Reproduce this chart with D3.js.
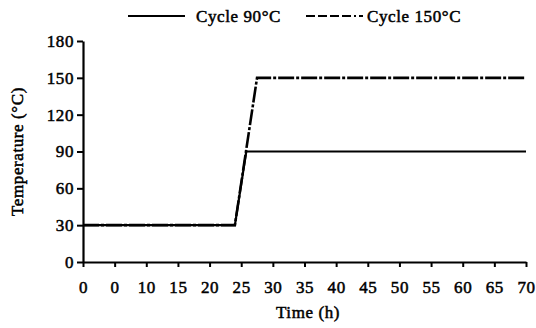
<!DOCTYPE html>
<html>
<head>
<meta charset="utf-8">
<script src="https://cdn.jsdelivr.net/npm/d3@7"></script>
<style>
  body { margin: 0; background: white; }
  svg text { font-family: "Liberation Serif", "Times New Roman", serif; fill: black; stroke: black; stroke-width: 0.5px; letter-spacing: 0.6px; }
</style>
</head>
<body>
<div id="chart"></div>
<script>
var xTicks = [0, 5, 10, 15, 20, 25, 30, 35, 40, 45, 50, 55, 60, 65, 70];
// the source figure prints "0" under the 5 tick
var xTickLabels = ["0", "0", "10", "15", "20", "25", "30", "35", "40", "45", "50", "55", "60", "65", "70"];
var yTicks = [0, 30, 60, 90, 120, 150, 180];

var cycle90Time = [0, 24, 25.8, 70];
var cycle90Temp = [30, 30, 90, 90];
var cycle150Time = [0, 24, 27.5, 70];
var cycle150Temp = [30, 30, 150, 150];

var margin = {top: 41, right: 10, bottom: 66, left: 83},
    width = 536 - margin.left - margin.right,
    height = 328 - margin.top - margin.bottom;

var svg = d3.select("#chart").append("svg")
    .attr("width", 536)
    .attr("height", 328)
    .append("g")
    .attr("transform", "translate(" + margin.left + "," + margin.top + ")");

var x = d3.scaleLinear().domain([0, 70]).range([0, 443]);
var y = d3.scaleLinear().domain([0, 180]).range([height, 0]);

var xAxis = svg.append("g")
    .attr("transform", "translate(0," + height + ")")
    .call(d3.axisBottom(x).tickValues(xTicks)
      .tickFormat(function(d, i) { return xTickLabels[i]; })
      .tickSize(5).tickSizeOuter(0).tickPadding(14));

var yAxis = svg.append("g")
    .call(d3.axisLeft(y).tickValues(yTicks).tickSize(6).tickSizeOuter(0).tickPadding(3));

svg.selectAll(".domain").attr("stroke", "black").attr("stroke-width", 2.2);
svg.selectAll(".tick line").attr("stroke", "black").attr("stroke-width", 2);
svg.selectAll(".tick text")
    .style("font-family", "Liberation Serif")
    .style("font-size", "17px");

var line = d3.line()
    .x(function(d) { return x(d[0]); })
    .y(function(d) { return y(d[1]); });

var data150 = cycle150Time.map(function(t, i) { return [t, cycle150Temp[i]]; });
var data90 = cycle90Time.map(function(t, i) { return [t, cycle90Temp[i]]; });

svg.append("path")
    .datum(data150)
    .attr("d", line)
    .attr("fill", "none")
    .attr("stroke", "black")
    .attr("stroke-width", 2.6)
    .attr("stroke-dasharray", "16,2,3,2");

svg.append("path")
    .datum(data90)
    .attr("d", line)
    .attr("fill", "none")
    .attr("stroke", "black")
    .attr("stroke-width", 2.2);

// axis titles
svg.append("text")
    .attr("x", 225)
    .attr("y", height + 56)
    .attr("text-anchor", "middle")
    .style("font-size", "17px")
    .text("Time (h)");

svg.append("text")
    .attr("transform", "translate(-60," + (height / 2) + ") rotate(-90)")
    .attr("text-anchor", "middle")
    .style("font-size", "17px")
    .text("Temperature (°C)");

// legend
var legend = svg.append("g").attr("transform", "translate(0," + (-25) + ")");
legend.append("line").attr("x1", 45).attr("x2", 102).attr("y1", 0).attr("y2", 0)
    .attr("stroke", "black").attr("stroke-width", 2);
legend.append("text").attr("x", 113).attr("y", 0).attr("dy", "0.35em")
    .style("font-size", "17px").text("Cycle 90°C");
legend.append("line").attr("x1", 223).attr("x2", 280).attr("y1", 0).attr("y2", 0)
    .attr("stroke", "black").attr("stroke-width", 2).attr("stroke-dasharray", "9,3,9,3,9,3,9,3,2,3");
legend.append("text").attr("x", 284).attr("y", 0).attr("dy", "0.35em")
    .style("font-size", "17px").text("Cycle 150°C");
</script>
</body>
</html>
